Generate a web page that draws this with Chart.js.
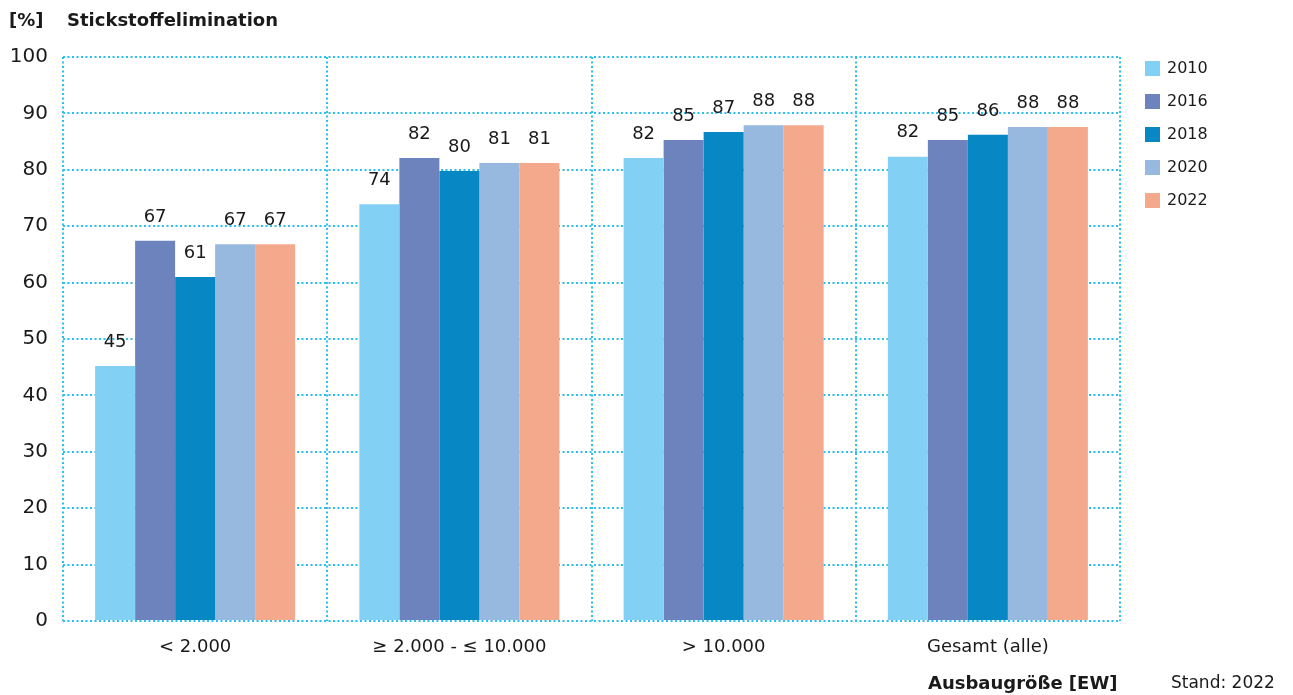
<!DOCTYPE html>
<html>
<head>
<meta charset="utf-8">
<script src="https://cdn.jsdelivr.net/npm/chart.js@4/dist/chart.umd.min.js"></script>
<style>
  html, body { margin: 0; padding: 0; background: #fff; }
  #wrap { width: 1293px; height: 695px; position: relative; }
</style>
</head>
<body>
<div id="wrap"><canvas id="barChart"></canvas></div>
<script>
let categories = ['< 2.000', '≥ 2.000 - ≤ 10.000', '> 10.000', 'Gesamt (alle)'];
let years = ['2010', '2016', '2018', '2020', '2022'];
let v2010 = [45.2, 73.9, 82.1, 82.3];
let v2016 = [67.4, 82.1, 85.3, 85.3];
let v2018 = [61.0, 79.8, 86.7, 86.2];
let v2020 = [66.8, 81.2, 87.9, 87.6];
let v2022 = [66.8, 81.2, 87.9, 87.6];
let yTicks = [0, 10, 20, 30, 40, 50, 60, 70, 80, 90, 100];
let colorHex = ['#83d0f5', '#6d83be', '#0788c5', '#97b9e0', '#f4a98c'];

let font = '"DejaVu Sans", Verdana, sans-serif';
let gridColor = '#2cc0ee';

// value labels above bars
let valueLabels = {
  id: 'valueLabels',
  afterDatasetsDraw(chart) {
    let c = chart.ctx;
    c.save();
    c.font = '18px ' + font;
    c.fillStyle = '#1a1a1a';
    c.textAlign = 'center';
    c.textBaseline = 'middle';
    chart.data.datasets.forEach((ds, i) => {
      chart.getDatasetMeta(i).data.forEach((bar, j) => {
        c.fillText(Math.round(ds.data[j]), bar.x, bar.y - 24);
      });
    });
    c.restore();
  }
};

// titles and legend
let extras = {
  id: 'extras',
  afterDraw(chart) {
    let c = chart.ctx;
    c.save();
    c.fillStyle = '#1a1a1a';
    c.textBaseline = 'middle';
    c.font = 'bold 18px ' + font;
    c.fillText('[%]', 9, 21);
    c.fillText('Stickstoffelimination', 67, 21);
    c.fillText('Ausbaugröße [EW]', 928, 684);
    c.font = '17px ' + font;
    c.fillText('Stand: 2022', 1171, 684);
    c.font = '16px ' + font;
    years.forEach((y, i) => {
      let cy = 68 + i * 33;
      c.fillStyle = colorHex[i];
      c.fillRect(1145, cy - 7, 15, 15);
      c.fillStyle = '#1a1a1a';
      c.fillText(y, 1167, cy + 1);
    });
    c.restore();
  }
};

let ctx = document.getElementById('barChart').getContext('2d');
let series = [v2010, v2016, v2018, v2020, v2022];

let barChart = new Chart(ctx, {
  type: 'bar',
  data: {
    labels: categories,
    datasets: series.map((d, i) => ({
      label: years[i],
      data: d,
      backgroundColor: colorHex[i],
      categoryPercentage: 0.757,
      barPercentage: 1.0
    }))
  },
  options: {
    responsive: true,
    maintainAspectRatio: false,
    animation: false,
    layout: { padding: { left: 0, top: 57, right: 173, bottom: 0 } },
    plugins: {
      legend: { display: false },
      tooltip: { enabled: false }
    },
    scales: {
      x: {
        grid: { color: gridColor, lineWidth: 2, drawTicks: false, offset: true },
        border: { display: false, dash: [2, 2.5] },
        ticks: { color: '#1a1a1a', font: { family: font, size: 18 }, padding: 16 },
        afterFit(scale) { scale.height = 74; }
      },
      y: {
        min: 0,
        max: 100,
        afterBuildTicks(scale) { scale.ticks = yTicks.map(v => ({ value: v })); },
        grid: { color: gridColor, lineWidth: 2, drawTicks: false },
        border: { display: false, dash: [2, 2.5] },
        ticks: { color: '#1a1a1a', font: { family: font, size: 20 }, padding: 15 },
        afterFit(scale) { scale.width = 63; }
      }
    }
  },
  plugins: [valueLabels, extras]
});
</script>
</body>
</html>
